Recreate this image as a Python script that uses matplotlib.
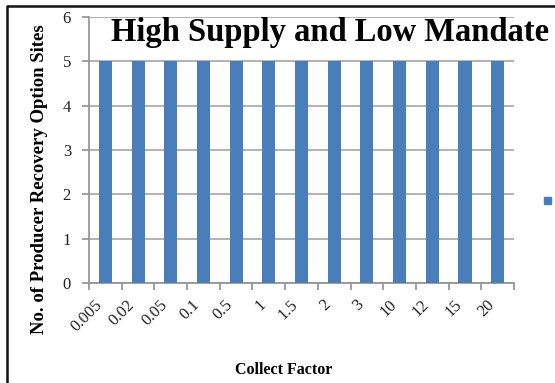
import matplotlib
matplotlib.use("Agg")
import matplotlib.pyplot as plt
from matplotlib.lines import Line2D
import numpy as np

categories = ["0.005", "0.02", "0.05", "0.1", "0.5", "1", "1.5", "2", "3", "10", "12", "15", "20"]
values = [5, 5, 5, 5, 5, 5, 5, 5, 5, 5, 5, 5, 5]
yticks = [0, 1, 2, 3, 4, 5, 6]

plt.rcParams['font.family'] = ['Liberation Serif', 'DejaVu Serif']

fig = plt.figure(figsize=(5.55, 3.83), dpi=100)
ax = fig.add_axes([89/555, 1-283/383, (514-89)/555, (283-17)/383])

x = np.arange(len(categories))
bar_color = '#4a7ebb'
ax.bar(x, values, width=0.4, color=bar_color, zorder=3)

ax.set_xlim(-0.5, len(categories)-0.5)
ax.set_ylim(0, 6)
ax.set_yticks(yticks)
ax.set_yticklabels([str(t) for t in yticks], fontsize=12, color='#222222')
ax.yaxis.grid(True, color='#a6a6a6', linewidth=1.2, zorder=0)

ax.set_xticks(x)
ax.set_xticklabels(categories, rotation=45, ha='right', fontsize=12, color='#222222')
ax.tick_params(axis='x', which='major', length=0, pad=10)
ax.set_xticks(np.arange(len(categories)+1) - 0.5, minor=True)
ax.tick_params(axis='x', which='minor', length=5, color='#909090', width=1.2)
ax.tick_params(axis='y', length=5, color='#909090', width=1.2, pad=8)

for s in ['top', 'right']:
    ax.spines[s].set_visible(False)
for s in ['left', 'bottom']:
    ax.spines[s].set_color('#909090')
    ax.spines[s].set_linewidth(1.2)

fig.text(40/555, 1-179/383, "No. of Producer Recovery Option Sites", fontsize=13.5, fontweight='bold',
         rotation=90, ha='center', va='center')
fig.text(284/555, 1-370/383, "Collect Factor", fontsize=11.5, fontweight='bold', ha='center', va='center')

fig.text(330/555, 1-32/383, "High Supply and Low Mandate", fontsize=23.5, fontweight='bold',
         ha='center', va='center')

# legend marker
fig.patches.append(matplotlib.patches.Rectangle((544/555, 1-204/383), 7/555, 7/383,
                                                 transform=fig.transFigure, color=bar_color))

# outer frame lines (left and top)
fig.add_artist(Line2D([7/555, 7/555, 1.0], [0, 1-5.5/383, 1-5.5/383], transform=fig.transFigure,
                      color='#111111', linewidth=1.8))

fig.savefig("out.png", dpi=100)
